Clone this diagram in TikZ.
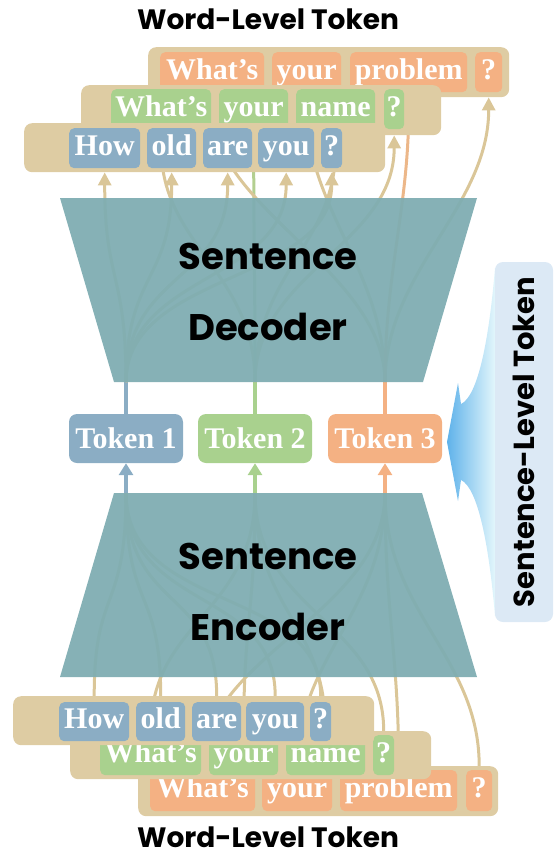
\documentclass[tikz,border=0pt]{standalone}
\usepackage{fontspec}
\usetikzlibrary{arrows.meta}
\newfontfamily\headfont{Poppins}
\newfontfamily\wordfont{Liberation Serif}
\definecolor{cblue}{RGB}{139,173,196}
\definecolor{cgreen}{RGB}{169,209,142}
\definecolor{corange}{RGB}{244,177,131}
\definecolor{ctan}{RGB}{222,204,163}
\definecolor{cline}{RGB}{218,198,152}
\definecolor{cteal}{RGB}{127,173,178}
\definecolor{cside}{RGB}{220,233,245}
\definecolor{cskyA}{RGB}{95,178,234}
\definecolor{cskyB}{RGB}{192,246,250}
\definecolor{cskyC}{RGB}{232,249,252}
\pgfdeclarelayer{bg}
\pgfsetlayers{bg,main}

\begin{document}
\begin{tikzpicture}[x=1pt, y=-1pt,
    bar/.style={fill=ctan, rounded corners=8pt, inner sep=0pt, anchor=north west},
    word/.style={rounded corners=5pt, inner sep=0pt, anchor=north west, text=white,
                 font=\wordfont\bfseries\fontsize{30}{32}\selectfont,
                 text height=20pt, text depth=6pt},
    tok/.style={rounded corners=8pt, inner sep=0pt, text=white,
                minimum width=114pt, minimum height=49pt,
                font=\wordfont\bfseries\fontsize{30}{32}\selectfont},
    head/.style={font=\headfont\bfseries\fontsize{28}{32}\selectfont},
    big/.style={font=\headfont\bfseries\fontsize{37}{71}\selectfont, align=center},
    link/.style={cline, line width=3pt},
    linkarr/.style={link, -{Triangle[width=13pt,length=13pt]}},
    stub/.style={line width=3.5pt},
    stubarr/.style={stub, -{Triangle[width=14pt,length=12pt]}},
  ]
  \useasboundingbox (0,0) rectangle (556,856);

  % titles
  \node[head] (wtop) at (268,19) {Word-Level Token};
  \node[head] (wbot) at (268,837) {Word-Level Token};

  % decoder / encoder blocks
  \fill[cteal, fill opacity=0.95] (60,198) -- (477,198) -- (423,382) -- (114,382) -- cycle;
  \fill[cteal, fill opacity=0.95] (114,493) -- (422,493) -- (477,677) -- (60,677) -- cycle;
  \node[big] (dec) at (268,292) {Sentence\\Decoder};
  \node[big] (enc) at (268,592) {Sentence\\Encoder};
  \coordinate (decB) at (0,382);
  \coordinate (encT) at (0,493);

  % sentence-level tokens
  \node[tok, fill=cblue] (tok1) at (126,438.5) {Token 1};
  \node[tok, fill=cgreen] (tok2) at (255,438.5) {Token 2};
  \node[tok, fill=corange] (tok3) at (385,438.5) {Token 3};
  \coordinate (d1) at (tok1.north |- decB);
  \coordinate (d2) at (tok2.north |- decB);
  \coordinate (d3) at (tok3.north |- decB);
  \coordinate (e1) at (tok1.south |- encT);
  \coordinate (e2) at (tok2.south |- encT);
  \coordinate (e3) at (tok3.south |- encT);

  % upper word rows (decoder output)
  \node[bar, minimum width=361pt, minimum height=50pt] (uBarO) at (148,47) {};
  \node[word, fill=corange, minimum width=104pt, minimum height=40pt] (uWhatO) at (160,52) {What’s};
  \node[word, fill=corange, minimum width=69pt, minimum height=40pt] (uYourO) at (272,52) {your};
  \node[word, fill=corange, minimum width=117pt, minimum height=40pt] (uProb) at (350,52) {problem};
  \node[word, fill=corange, minimum width=27pt, minimum height=40pt] (uQo) at (475,52) {?};
  \node[bar, minimum width=360pt, minimum height=50pt] (uBarG) at (81,85) {};
  \node[word, fill=cgreen, minimum width=100pt, minimum height=40pt] (uWhatG) at (111,89) {What’s};
  \node[word, fill=cgreen, minimum width=69pt, minimum height=40pt] (uYourG) at (219,89) {your};
  \node[word, fill=cgreen, minimum width=79pt, minimum height=40pt] (uNameG) at (296,89) {name};
  \node[word, fill=cgreen, minimum width=20pt, minimum height=40pt] (uQg) at (384,89) {?};
  \node[bar, minimum width=361pt, minimum height=49pt] (uBarB) at (24,123) {};
  \node[word, fill=cblue, minimum width=71pt, minimum height=40pt] (uHow) at (69,128) {How};
  \node[word, fill=cblue, minimum width=49pt, minimum height=40pt] (uOld) at (147,128) {old};
  \node[word, fill=cblue, minimum width=49pt, minimum height=40pt] (uAre) at (203,128) {are};
  \node[word, fill=cblue, minimum width=56pt, minimum height=40pt] (uYou) at (258,128) {you};
  \node[word, fill=cblue, minimum width=21pt, minimum height=40pt] (uQb) at (321,128) {?};

  % lower word rows (encoder input)
  \node[bar, minimum width=360pt, minimum height=50pt] (lBarO) at (138,766) {};
  \node[word, fill=corange, minimum width=105pt, minimum height=41pt] (lWhatO) at (150,770) {What’s};
  \node[word, fill=corange, minimum width=70pt, minimum height=41pt] (lYourO) at (262,770) {your};
  \node[word, fill=corange, minimum width=117pt, minimum height=41pt] (lProb) at (340,770) {problem};
  \node[word, fill=corange, minimum width=26pt, minimum height=41pt] (lQo) at (466,770) {?};
  \node[bar, minimum width=361pt, minimum height=48pt] (lBarG) at (70,731) {};
  \node[word, fill=cgreen, minimum width=101pt, minimum height=40pt] (lWhatG) at (100,735) {What’s};
  \node[word, fill=cgreen, minimum width=69pt, minimum height=40pt] (lYourG) at (209,735) {your};
  \node[word, fill=cgreen, minimum width=79pt, minimum height=40pt] (lNameG) at (286,735) {name};
  \node[word, fill=cgreen, minimum width=21pt, minimum height=40pt] (lQg) at (373,735) {?};
  \node[bar, minimum width=361pt, minimum height=49pt] (lBarB) at (13,696) {};
  \node[word, fill=cblue, minimum width=70pt, minimum height=39pt] (lHow) at (59,702) {How};
  \node[word, fill=cblue, minimum width=49pt, minimum height=39pt] (lOld) at (136,702) {old};
  \node[word, fill=cblue, minimum width=49pt, minimum height=39pt] (lAre) at (192,702) {are};
  \node[word, fill=cblue, minimum width=58pt, minimum height=39pt] (lYou) at (246,702) {you};
  \node[word, fill=cblue, minimum width=21pt, minimum height=39pt] (lQb) at (310,702) {?};

  % connectors, behind everything
  \begin{pgfonlayer}{bg}
    \draw[stub, cblue] (tok1.north) -- (d1);
    \draw[stub, cgreen] (tok2.north) -- (d2);
    \draw[stub, corange] (tok3.north) -- (d3);
    \foreach \w in {uHow,uOld,uAre,uYou,uQb}
      \draw[linkarr] (d1) .. controls +(0,-110) and +(0,110) .. (\w.south |- uBarB.south);
    \foreach \w in {uWhatG,uNameG,uQg}
      \draw[linkarr] (d2) .. controls +(0,-110) and +(0,110) .. (\w.south |- uBarG.south);
    \draw[linkarr, cgreen!80!cline] (d2) .. controls +(0,-110) and +(0,110) .. (uYourG.south |- uBarG.south);
    \foreach \w in {uWhatO,uYourO,uQo}
      \draw[linkarr] (d3) .. controls +(0,-110) and +(0,110) .. (\w.south |- uBarO.south);
    \draw[linkarr, corange!70!cline] (d3) .. controls +(0,-110) and +(0,110) .. (uProb.south |- uBarO.south);

    \foreach \w in {lHow,lOld,lAre,lYou,lQb}
      \draw[link] (\w.north |- lBarB.north) .. controls +(0,-110) and +(0,120) .. (e1);
    \foreach \w in {lWhatG,lYourG,lNameG,lQg}
      \draw[link] (\w.north |- lBarG.north) .. controls +(0,-110) and +(0,120) .. (e2);
    \foreach \w in {lWhatO,lYourO,lProb,lQo}
      \draw[link] (\w.north |- lBarO.north) .. controls +(0,-110) and +(0,120) .. (e3);
    \draw[stubarr, cblue] (e1) -- (tok1.south);
    \draw[stubarr, cgreen] (e2) -- (tok2.south);
    \draw[stubarr, corange] (e3) -- (tok3.south);
  \end{pgfonlayer}

  % sentence-level token label
  \shade[left color=cskyA, middle color=cskyB, right color=cskyC]
    (447,442) -- (458,383) -- (461,404) .. controls (478,396) and (489,340) .. (495,268)
    -- (497,268) -- (497,616) -- (495,616) .. controls (489,545) and (478,488) .. (461,480)
    -- (458,501) -- cycle;
  \node[fill=cside, rounded corners=8pt, rotate=90, minimum width=360pt, minimum height=58pt,
        inner sep=0pt, font=\headfont\bfseries\fontsize{29}{32}\selectfont] (slt) at (524,442)
        {Sentence-Level Token};
\end{tikzpicture}
\end{document}
